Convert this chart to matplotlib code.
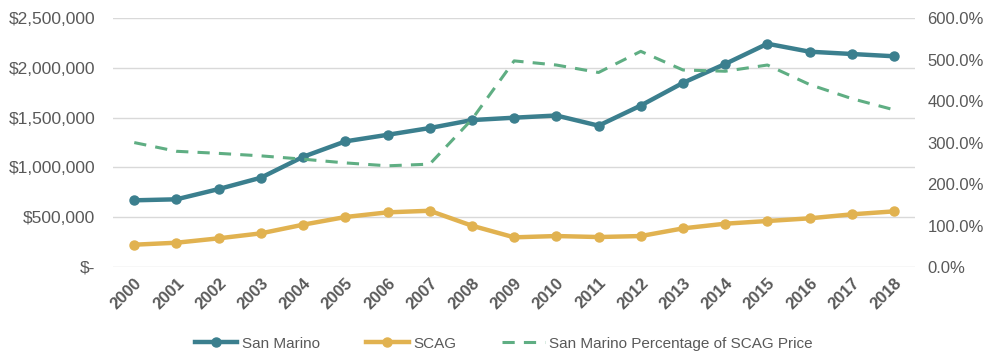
import matplotlib
matplotlib.use("Agg")
import matplotlib.pyplot as plt
from matplotlib.ticker import FuncFormatter, MultipleLocator

years = [str(y) for y in range(2000, 2019)]
san_marino = [670000, 680000, 783000, 897000, 1107000, 1262000, 1328000, 1396000,
              1476000, 1500000, 1522000, 1420000, 1622000, 1850000, 2040000,
              2243000, 2163000, 2140000, 2117000]
scag = [224000, 244000, 288000, 338000, 425000, 502000, 549000, 565000, 415000,
        298000, 311000, 301000, 311000, 388000, 435000, 462000, 489000, 529000, 559000]
pct_of_scag = [300, 279, 274, 268, 260, 251, 244, 248, 356, 497, 487, 469, 520,
               475, 472, 487, 440, 406, 379]

teal = "#3b7f8e"
gold = "#e1b250"
green = "#5fae83"
text_c = "#595959"
grid_c = "#d9d9d9"

plt.rcParams["font.family"] = ["Liberation Sans", "DejaVu Sans"]

fig = plt.figure(figsize=(9.84, 3.56), dpi=100)
ax = fig.add_axes([0.115, 0.25, 0.815, 0.699])
ax2 = ax.twinx()

x = list(range(len(years)))
l1, = ax.plot(x, san_marino, color=teal, lw=3.2, marker="o", ms=6.5, label="San Marino", zorder=3)
l2, = ax.plot(x, scag, color=gold, lw=3.2, marker="o", ms=6.5, label="SCAG", zorder=3)
l3, = ax2.plot(x, pct_of_scag, color=green, lw=2.2, ls=(0, (4, 3)),
               label="San Marino Percentage of SCAG Price", zorder=2)

ax.set_xlim(-0.5, len(years) - 0.5)
ax.set_ylim(0, 2500000)
ax2.set_ylim(0, 600)
ax.yaxis.set_major_locator(MultipleLocator(500000))
ax2.yaxis.set_major_locator(MultipleLocator(100))
ax.yaxis.set_major_formatter(FuncFormatter(lambda v, p: "$-" if v == 0 else f"${v:,.0f}"))
ax2.yaxis.set_major_formatter(FuncFormatter(lambda v, p: f"{v:.1f}%"))

ax.set_xticks(x)
ax.set_xticklabels(years, rotation=45, ha="right", rotation_mode="anchor", fontsize=12,
                   color=text_c, fontweight="bold")
ax.grid(axis="y", color=grid_c, lw=1)
ax.set_axisbelow(True)
for a in (ax, ax2):
    for s in a.spines.values():
        s.set_visible(False)
    a.tick_params(length=0, colors=text_c, labelsize=12.5)
ax.tick_params(axis="y", pad=13)
ax.tick_params(axis="x", pad=6, labelsize=12)
ax2.tick_params(axis="y", pad=9, labelsize=12)

fig.legend(handles=[l1, l2, l3], loc="center", bbox_to_anchor=(0.512, 0.035), ncol=3,
           frameon=False, fontsize=11, handlelength=2.8, columnspacing=3.0,
           labelcolor=text_c, handletextpad=0.3)

fig.savefig("out.png", dpi=100)
